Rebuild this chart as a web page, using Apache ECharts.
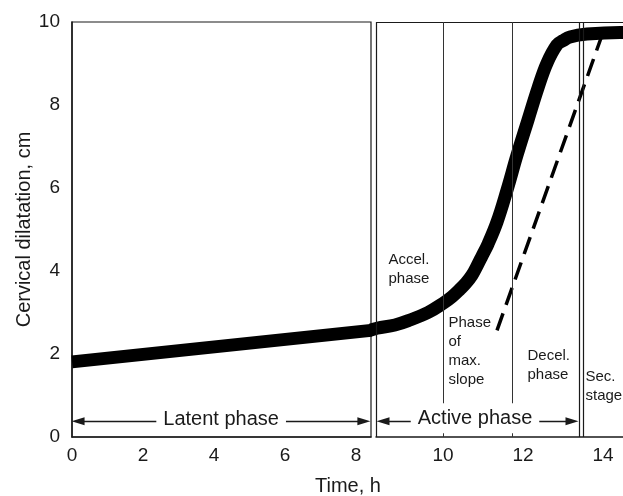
<!DOCTYPE html>
<html>
<head>
<meta charset="utf-8">
<script src="https://cdn.jsdelivr.net/npm/echarts@6/dist/echarts.min.js"></script>
<style>
  html, body { margin: 0; padding: 0; background: #fff; }
  #chart { width: 623px; height: 496px; }
</style>
</head>
<body>
<div id="chart"></div>
<script>
// Cervical dilatation against time in labour, split into latent phase,
// active phase and the start of the second stage.

const yTicks = [0, 2, 4, 6, 8, 10];
const latentTicks = [0, 2, 4, 6, 8];
const activeTicks = [10, 12, 14];

// latent phase: slow, almost linear dilatation
const latentTime = [0, 8.42];
const latentDilation = [1.81, 2.57];

// active phase: acceleration, maximum slope, deceleration, full dilatation
const activeTime = [8.15, 8.35, 8.8, 9.175, 9.625, 10.0, 10.225, 10.425, 10.575, 10.725,
  10.85, 10.975, 11.125, 11.35, 11.6, 11.85, 12.125, 12.375, 12.6, 12.85, 13.0, 13.175,
  13.6, 14.425, 15.2];
const activeDilation = [2.56, 2.62, 2.70, 2.82, 3.0, 3.22, 3.38, 3.56, 3.71, 3.90,
  4.12, 4.36, 4.65, 5.18, 5.95, 6.79, 7.64, 8.41, 9.01, 9.45, 9.55, 9.64,
  9.71, 9.75, 9.75];

// dashed reference line along the phase of maximum slope
const slopeTime = [11.35, 13.975];
const slopeDilation = [2.57, 9.68];

// borders between the sub-phases of the active phase
const phaseBounds = [10, 11.725];
// double rule closing the active phase and opening the second stage
const stageBounds = [13.4, 13.5];

// time range of each panel
const latentRange = [0, 8.42];
const activeRange = [8.325, 14.5];

const zip = (xs, ys) => xs.map((x, i) => [x, ys[i]]);

const ink = '#1a1a1a';
const fontFamily = '"Liberation Sans", Arial, Helvetica, sans-serif';

const grids = [
  { left: 72, top: 22, width: 299, height: 415, show: true, borderColor: ink, borderWidth: 1.2 },
  { left: 376, top: 22, width: 247, height: 415, show: false }
];

function timeAxis(gridIndex, range, ticks) {
  return {
    type: 'value', gridIndex, min: range[0], max: range[1],
    axisLine: { show: true, onZero: false, lineStyle: { color: ink, width: 1.5 } },
    axisTick: { show: false },
    splitLine: { show: false },
    axisLabel: {
      fontFamily, fontSize: 19, color: ink, margin: 9,
      customValues: ticks,
      formatter: v => (ticks.includes(v) ? String(v) : '')
    }
  };
}

function dilationAxis(gridIndex, visible) {
  const axis = {
    type: 'value', gridIndex, min: 0, max: 10, interval: 2, show: visible,
    axisLine: { show: true, lineStyle: { color: ink, width: 1.5 } },
    axisTick: { show: false },
    splitLine: { show: false },
    axisLabel: { fontFamily, fontSize: 19, color: ink, margin: 12, customValues: yTicks }
  };
  if (visible) {
    Object.assign(axis, {
      name: 'Cervical dilatation, cm',
      nameLocation: 'middle',
      nameRotate: 90,
      nameGap: 33,
      nameTextStyle: { fontFamily, fontSize: 20, color: ink }
    });
  }
  return axis;
}

const noteLabel = {
  show: true, position: 'right', distance: 0,
  fontFamily, fontSize: 15, lineHeight: 19, color: ink,
  formatter: p => p.name
};
const phaseLabel = {
  show: true, position: 'inside',
  fontFamily, fontSize: 20, color: ink,
  backgroundColor: '#fff', padding: [5, 7],
  formatter: p => p.name
};
const hidden = { symbol: 'circle', symbolSize: 1, itemStyle: { color: 'rgba(0,0,0,0)' } };
const arrowStyle = { color: ink, width: 1.3, type: 'solid' };
const frameStyle = { color: ink, width: 1.2, type: 'solid' };
const arrowHead = { symbol: 'triangle', symbolSize: [8, 13] };
const rule = (x, style) => [
  { coord: [x, 0], symbol: 'none', lineStyle: style },
  { coord: [x, 10], symbol: 'none' }
];

const option = {
  animation: false,
  backgroundColor: '#fff',
  grid: grids,
  xAxis: [
    timeAxis(0, latentRange, latentTicks),
    timeAxis(1, activeRange, activeTicks)
  ],
  yAxis: [dilationAxis(0, true), dilationAxis(1, false)],
  graphic: [{
    type: 'text', x: 348, y: 486,
    style: { text: 'Time, h', fontFamily, fontSize: 20, fill: ink, textAlign: 'center', textVerticalAlign: 'middle' }
  }],
  series: [
    {
      // panel frame, phase boundaries, stage rules and the active-phase arrow
      type: 'line', xAxisIndex: 1, yAxisIndex: 1, data: [], z: 2,
      markLine: {
        silent: true, animation: false,
        label: { show: false },
        data: [
          rule(activeRange[0], frameStyle),
          [
            { coord: [activeRange[0], 10], symbol: 'none', lineStyle: frameStyle },
            { coord: [activeRange[1], 10], symbol: 'none' }
          ],
          ...phaseBounds.map(b => rule(b, { color: '#333', width: 1, type: 'solid' })),
          ...stageBounds.map(b => rule(b, frameStyle)),
          [
            { coord: [8.5, 0.38], ...arrowHead, lineStyle: arrowStyle },
            { coord: [13.225, 0.38], ...arrowHead }
          ]
        ]
      }
    },
    {
      // latent-phase arrow
      type: 'line', xAxisIndex: 0, yAxisIndex: 0, data: [], z: 2,
      markLine: {
        silent: true, animation: false,
        label: { show: false },
        data: [[
          { coord: [0.17, 0.38], ...arrowHead, lineStyle: arrowStyle },
          { coord: [8.22, 0.38], ...arrowHead }
        ]]
      }
    },
    {
      name: 'Latent phase',
      type: 'line', xAxisIndex: 0, yAxisIndex: 0, z: 3,
      data: zip(latentTime, latentDilation),
      symbol: 'none',
      lineStyle: { color: '#000', width: 13, cap: 'butt' }
    },
    {
      name: 'Active phase',
      type: 'line', xAxisIndex: 1, yAxisIndex: 1, z: 3,
      clip: false,
      smooth: 0.4,
      data: zip(activeTime, activeDilation),
      symbol: 'none',
      lineStyle: { color: '#000', width: 13, cap: 'butt' }
    },
    {
      name: 'Maximum slope',
      type: 'line', xAxisIndex: 1, yAxisIndex: 1, z: 4,
      data: zip(slopeTime, slopeDilation),
      symbol: 'none',
      lineStyle: { color: '#000', width: 3.5, type: [18, 9], cap: 'butt' }
    },
    {
      // texts in the active-phase and second-stage panels
      type: 'line', xAxisIndex: 1, yAxisIndex: 1, data: [], z: 10,
      markPoint: {
        silent: true, animation: false,
        data: [
          { name: 'Accel.\nphase', coord: [8.625, 4.04], ...hidden, label: noteLabel },
          { name: 'Phase\nof\nmax.\nslope', coord: [10.125, 2.07], ...hidden, label: noteLabel },
          { name: 'Decel.\nphase', coord: [12.1, 1.73], ...hidden, label: noteLabel },
          { name: 'Sec.\nstage', coord: [13.55, 1.23], ...hidden, label: noteLabel },
          { name: 'Active phase', coord: [10.8, 0.45], ...hidden, label: phaseLabel }
        ]
      }
    },
    {
      type: 'line', xAxisIndex: 0, yAxisIndex: 0, data: [], z: 10,
      markPoint: {
        silent: true, animation: false,
        data: [{ name: 'Latent phase', coord: [4.2, 0.43], ...hidden, label: phaseLabel }]
      }
    }
  ]
};

const chart = echarts.init(document.getElementById('chart'), null, { renderer: 'canvas' });
chart.setOption(option);
</script>
</body>
</html>
